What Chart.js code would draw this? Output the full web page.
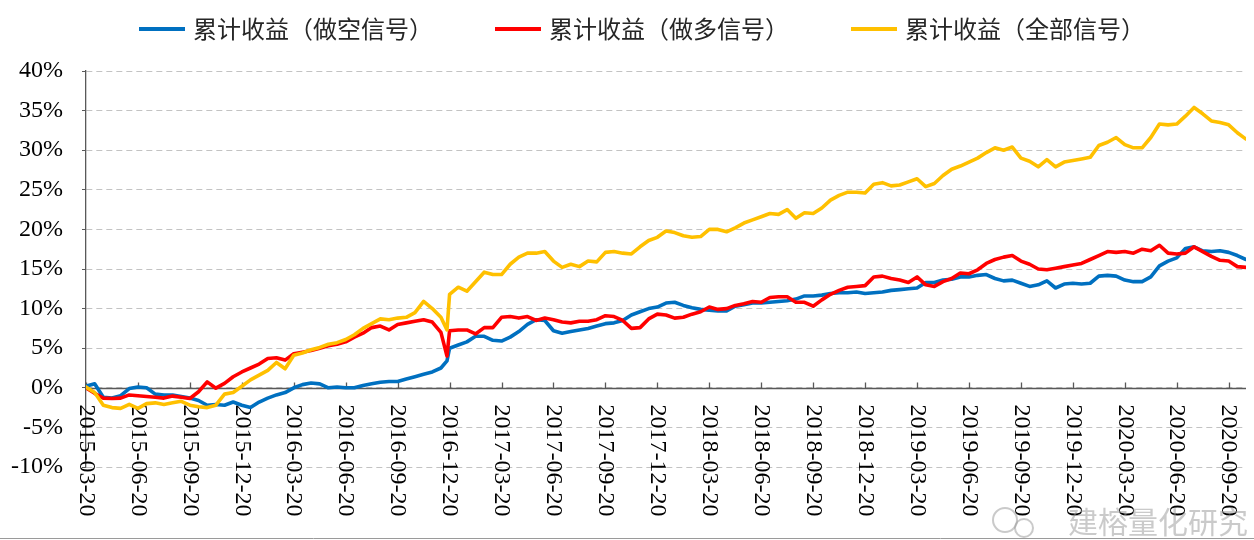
<!DOCTYPE html>
<html>
<head>
<meta charset="utf-8">
<title>累计收益</title>
<script src="https://cdn.jsdelivr.net/npm/chart.js@4.4.0/dist/chart.umd.min.js"></script>
<style>
  html, body { margin: 0; padding: 0; background: #fff; }
  #wrap { width: 1254px; height: 540px; position: relative; }
</style>
</head>
<body>
<div id="wrap"><canvas id="retChart"></canvas></div>
<script>
// DATA (x = months after 2015-03-20, y = cumulative return in %)
const sampleMonths = [
  0, 0.5, 1, 1.5, 2, 2.5, 3, 3.5, 4, 4.5, 5, 5.5, 6, 6.5, 7, 7.5, 8, 8.5, 9, 9.5,
  10, 10.5, 11, 11.5, 12, 12.5, 13, 13.5, 14, 14.5, 15, 15.5, 16, 16.5, 17, 17.5, 18, 18.5, 19, 19.5,
  20, 20.5, 20.85, 21, 21.5, 22, 22.5, 23, 23.5, 24, 24.5, 25, 25.5, 26, 26.5, 27, 27.5, 28, 28.5, 29, 29.5,
  30, 30.5, 31, 31.5, 32, 32.5, 33, 33.5, 34, 34.5, 35, 35.5, 36, 36.5, 37, 37.5, 38, 38.5, 39, 39.5,
  40, 40.5, 41, 41.5, 42, 42.5, 43, 43.5, 44, 44.5, 45, 45.5, 46, 46.5, 47, 47.5, 48, 48.5, 49, 49.5,
  50, 50.5, 51, 51.5, 52, 52.5, 53, 53.5, 54, 54.5, 55, 55.5, 56, 56.5, 57, 57.5, 58, 58.5, 59, 59.5,
  60, 60.5, 61, 61.5, 62, 62.5, 63, 63.5, 64, 64.5, 65, 65.5, 66, 66.5, 67
];

const quarterMonths = [0, 3, 6, 9, 12, 15, 18, 21, 24, 27, 30, 33, 36, 39, 42, 45, 48, 51, 54, 57, 60, 63, 66];
const quarterLabels = [
  '2015-03-20', '2015-06-20', '2015-09-20', '2015-12-20', '2016-03-20', '2016-06-20',
  '2016-09-20', '2016-12-20', '2017-03-20', '2017-06-20', '2017-09-20', '2017-12-20',
  '2018-03-20', '2018-06-20', '2018-09-20', '2018-12-20', '2019-03-20', '2019-06-20',
  '2019-09-20', '2019-12-20', '2020-03-20', '2020-06-20', '2020-09-20'
];

const seriesNames = ['累计收益（做空信号）', '累计收益（做多信号）', '累计收益（全部信号）'];

const shortReturns = [
  0.2, 0.5, -1.2, -1.3, -1.0, -0.1, 0.1, 0.0, -0.8, -0.9,
  -0.9, -1.1, -1.3, -1.6, -2.2, -2.1, -2.2, -1.8, -2.2, -2.5,
  -1.8, -1.3, -0.9, -0.6, 0.0, 0.4, 0.6, 0.5, 0.0, 0.1,
  0.0, 0.0, 0.3, 0.5, 0.7, 0.8, 0.8, 1.1, 1.4, 1.7,
  2.0, 2.5, 3.4,
  5.0, 5.4, 5.8, 6.5, 6.5, 6.0, 5.9, 6.4,
  7.1, 8.0, 8.6, 8.5, 7.2, 6.9, 7.1, 7.3, 7.5, 7.8,
  8.1, 8.2, 8.5, 9.2, 9.6, 10.0, 10.2, 10.7, 10.8, 10.4,
  10.1, 9.9, 9.8, 9.7, 9.7, 10.3, 10.5, 10.7, 10.7, 10.8,
  10.9, 11.0, 11.2, 11.6, 11.6, 11.7, 11.9, 12.0, 12.0, 12.1,
  11.9, 12.0, 12.1, 12.3, 12.4, 12.5, 12.6, 13.3, 13.3, 13.6,
  13.7, 14.0, 14.0, 14.2, 14.3, 13.8, 13.5, 13.6, 13.2, 12.8,
  13.0, 13.5, 12.6, 13.1, 13.2, 13.1, 13.2, 14.1, 14.2, 14.1,
  13.6, 13.4, 13.4, 14.0, 15.4, 16.0, 16.4, 17.6, 17.8, 17.3,
  17.2, 17.3, 17.1, 16.7, 16.2
];

const longReturns = [
  0.0, -0.7, -1.3, -1.35, -1.3, -0.9, -1.0, -1.1, -1.2, -1.3,
  -1.05, -1.2, -1.35, -0.5, 0.75, -0.05, 0.55, 1.4, 2.0, 2.5,
  3.0, 3.7, 3.8, 3.5, 4.3, 4.5, 4.7, 5.0, 5.3, 5.5,
  5.8, 6.4, 6.9, 7.6, 7.8, 7.3, 8.0, 8.2, 8.4, 8.6,
  8.3, 7.0, 4.0,
  7.2, 7.3, 7.3, 6.8, 7.6, 7.6, 8.9, 9.0,
  8.8, 9.0, 8.5, 8.8, 8.6, 8.3, 8.2, 8.4, 8.4, 8.6,
  9.1, 9.0, 8.5, 7.5, 7.6, 8.7, 9.3, 9.2, 8.8, 8.9,
  9.3, 9.6, 10.2, 9.9, 10.0, 10.4, 10.6, 10.9, 10.8, 11.4,
  11.5, 11.5, 10.8, 10.8, 10.3, 11.1, 11.8, 12.3, 12.7, 12.8,
  12.9, 14.0, 14.1, 13.8, 13.6, 13.3, 14.0, 13.0, 12.8, 13.4,
  13.8, 14.5, 14.4, 14.9, 15.7, 16.2, 16.5, 16.7, 16.0, 15.6,
  15.0, 14.9, 15.1, 15.3, 15.5, 15.7, 16.2, 16.7, 17.2, 17.1,
  17.2, 17.0, 17.5, 17.3, 18.0, 17.0, 16.9, 17.0, 17.8, 17.2,
  16.6, 16.1, 16.0, 15.3, 15.2
];

const allReturns = [
  0.1, -0.6, -2.2, -2.5, -2.6, -2.1, -2.6, -2.0, -1.9, -2.1,
  -1.9, -1.7, -2.2, -2.4, -2.5, -2.2, -0.8, -0.6, 0.2, 1.0,
  1.6, 2.2, 3.2, 2.4, 4.1, 4.4, 4.8, 5.1, 5.5, 5.7,
  6.1, 6.7, 7.5, 8.1, 8.7, 8.6, 8.8, 8.9, 9.5, 10.9,
  10.0, 8.9, 7.3,
  11.8, 12.7, 12.2, 13.4, 14.6, 14.3, 14.3, 15.6,
  16.5, 17.0, 17.0, 17.2, 16.0, 15.2, 15.6, 15.3, 16.0, 15.9,
  17.1, 17.2, 17.0, 16.9, 17.8, 18.6, 19.0, 19.8, 19.6, 19.2,
  19.0, 19.1, 20.0, 20.0, 19.7, 20.2, 20.8, 21.2, 21.6, 22.0,
  21.9, 22.5, 21.4, 22.1, 22.0, 22.7, 23.7, 24.3, 24.7, 24.7,
  24.6, 25.7, 25.9, 25.5, 25.6, 26.0, 26.4, 25.4, 25.8, 26.8,
  27.6, 28.0, 28.5, 29.0, 29.7, 30.3, 30.0, 30.4, 29.0, 28.6,
  27.9, 28.8, 27.9, 28.5, 28.7, 28.9, 29.1, 30.6, 31.0, 31.6,
  30.7, 30.3, 30.3, 31.6, 33.3, 33.2, 33.3, 34.3, 35.4, 34.6,
  33.7, 33.5, 33.2, 32.2, 31.4
];

const seriesColors = ['#0070C0', '#FF0000', '#FFC000'];

const SERIF = '"Liberation Serif", "Times New Roman", serif';
const CJK = '"Noto Sans CJK SC", sans-serif';

function toPoints(values) {
    return sampleMonths.map((m, i) => ({ x: m, y: values[i] }));
}

// x axis sits on the 0% line, labels turned to read top-down
const zeroAxis = {
    id: 'zeroAxis',
    beforeDatasetsDraw(chart) {
        const { ctx, chartArea, scales: { x, y } } = chart;
        const y0 = Math.round(y.getPixelForValue(0)) + 0.5;
        ctx.save();
        ctx.strokeStyle = '#595959';
        ctx.lineWidth = 1.3;
        ctx.beginPath();
        ctx.moveTo(chartArea.left, y0);
        ctx.lineTo(chartArea.right, y0);
        quarterMonths.forEach(m => {
            const px = Math.round(x.getPixelForValue(m)) + 0.5;
            ctx.moveTo(px, y0);
            ctx.lineTo(px, y0 - 6);
        });
        ctx.stroke();

        ctx.fillStyle = '#000';
        ctx.font = '24px ' + SERIF;
        ctx.textAlign = 'left';
        ctx.textBaseline = 'middle';
        quarterLabels.forEach((lab, i) => {
            const px = x.getPixelForValue(quarterMonths[i]);
            ctx.save();
            ctx.translate(px, y0 + 16);
            ctx.rotate(Math.PI / 2);
            ctx.fillText(lab, 0, 0);
            ctx.restore();
        });
        ctx.restore();
    }
};

// legend row on top + watermark + bottom frame line
const extras = {
    id: 'extras',
    afterDraw(chart) {
        const { ctx } = chart;
        const sets = chart.data.datasets;
        ctx.save();
        ctx.font = '24px ' + CJK;
        ctx.textBaseline = 'middle';
        const lineLen = 46, lineGap = 8, itemGap = 62;
        const widths = sets.map(d => lineLen + lineGap + ctx.measureText(d.label).width);
        const total = widths.reduce((a, b) => a + b, 0) + itemGap * (sets.length - 1);
        let lx = chart.width / 2 + 15 - total / 2;
        const ly = 29;
        sets.forEach((d, i) => {
            ctx.strokeStyle = d.borderColor;
            ctx.lineWidth = 4;
            ctx.beginPath();
            ctx.moveTo(lx, ly);
            ctx.lineTo(lx + lineLen, ly);
            ctx.stroke();
            ctx.fillStyle = '#262626';
            ctx.fillText(d.label, lx + lineLen + lineGap, ly);
            lx += widths[i] + itemGap;
        });

        // watermark
        ctx.strokeStyle = 'rgba(150,150,150,0.5)';
        ctx.lineWidth = 2;
        ctx.beginPath();
        ctx.arc(1005, 520, 12, 0, Math.PI * 2);
        ctx.stroke();
        ctx.beginPath();
        ctx.arc(1024, 528, 9, 0, Math.PI * 2);
        ctx.stroke();
        ctx.fillStyle = 'rgba(150,150,150,0.5)';
        ctx.font = '30px ' + CJK;
        ctx.textAlign = 'right';
        ctx.fillText('建榕量化研究', 1248, 522);

        ctx.strokeStyle = '#9a9a9a';
        ctx.lineWidth = 1;
        ctx.beginPath();
        ctx.moveTo(0, 538.5);
        ctx.lineTo(chart.width, 538.5);
        ctx.stroke();
        ctx.restore();
    }
};

const ctx = document.getElementById('retChart').getContext('2d');
const retChart = new Chart(ctx, {
    type: 'line',
    data: {
        datasets: [
            { label: seriesNames[0], data: toPoints(shortReturns), borderColor: seriesColors[0], backgroundColor: seriesColors[0], order: 2 },
            { label: seriesNames[1], data: toPoints(longReturns), borderColor: seriesColors[1], backgroundColor: seriesColors[1], order: 1 },
            { label: seriesNames[2], data: toPoints(allReturns), borderColor: seriesColors[2], backgroundColor: seriesColors[2], order: 0 }
        ]
    },
    options: {
        responsive: true,
        maintainAspectRatio: false,
        animation: false,
        layout: { padding: { left: 0, right: 8, top: 71, bottom: 73 } },
        elements: {
            line: { borderWidth: 3.6, tension: 0, borderJoinStyle: 'round', borderCapStyle: 'round' },
            point: { radius: 0 }
        },
        plugins: {
            legend: { display: false },
            tooltip: { enabled: false }
        },
        scales: {
            x: {
                type: 'linear',
                display: false,
                min: 0,
                max: 67
            },
            y: {
                min: -10,
                max: 40,
                afterFit(scale) { scale.width = 86; },
                ticks: {
                    stepSize: 5,
                    padding: 19,
                    color: '#000',
                    font: { family: SERIF, size: 24 },
                    callback: v => v + '%'
                },
                grid: { color: '#c3c3c3', lineWidth: 1, tickColor: '#595959', tickLength: 4, tickBorderDash: [] },
                border: { display: true, color: '#595959', width: 1.3, dash: [6, 4] }
            }
        }
    },
    plugins: [zeroAxis, extras]
});
</script>
</body>
</html>
